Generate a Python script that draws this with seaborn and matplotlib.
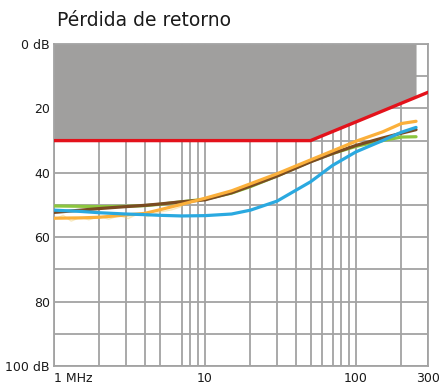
import numpy as np
import pandas as pd
import matplotlib
matplotlib.use("Agg")
import matplotlib.pyplot as plt
import seaborn as sns

# Frequencies (MHz) at which the return-loss traces are sampled
freq = [1, 1.5, 2, 3, 4, 5, 7, 10, 15, 20, 30, 50, 70, 100, 150, 200, 250]

# Return loss per trace (dB)
green = [50.3, 50.4, 50.5, 50.4, 50.2, 49.8, 49.0, 48.2, 46.3, 44.3, 41.0, 36.5, 34.0, 31.8, 30.0, 28.9, 28.8]
brown = [52.3, 51.6, 51.1, 50.5, 50.1, 49.7, 49.0, 48.4, 46.2, 44.1, 41.0, 36.6, 34.0, 31.5, 29.2, 27.7, 26.6]
orange = [54.1, 54.0, 53.8, 53.1, 52.6, 51.5, 49.8, 47.9, 45.6, 43.4, 40.3, 36.0, 33.2, 30.2, 27.3, 24.7, 24.0]
blue = [51.6, 52.0, 52.4, 52.8, 53.0, 53.2, 53.4, 53.3, 52.8, 51.6, 48.8, 42.8, 37.7, 33.5, 30.0, 27.4, 25.9]

# Raw measured trace at low frequency
raw_freq = [1, 1.15, 1.3, 1.5, 1.7, 2, 2.3, 2.7, 3.1, 3.6, 4.2, 5, 6, 7]
raw_db = [54.5, 53.2, 55.0, 53.8, 54.6, 53.5, 54.4, 53.3, 54.2, 52.8, 53.6, 52.2, 51.5, 50.5]

# Limit line and the shaded forbidden zone above it
limit_freq = [1, 50, 300]
limit_db = [30, 30, 15]
shade_freq = [1, 50, 250]
shade_db = [30, 30, 16.5]

# Axis labels
y_ticks = [0, 20, 40, 60, 80, 100]
y_labels = ["0 dB", "20", "40", "60", "80", "100 dB"]
x_ticks = [1, 10, 100, 300]
x_labels = ["1 MHz", "10", "100", "300"]
x_grid = [2, 3, 4, 5, 7, 8, 9, 10, 20, 30, 40, 50, 60, 70, 80, 90, 100, 200]

series = {"green": green, "brown": brown, "orange": orange, "blue": blue}
palette = {"green": "#8cc63f", "brown": "#7a4b22", "orange": "#fbb03b", "blue": "#2aa9e0"}

df = pd.concat(
    [pd.DataFrame({"freq": freq, "db": vals, "trace": name}) for name, vals in series.items()],
    ignore_index=True,
)

sns.set_style("white")
plt.rcParams["font.family"] = ["DejaVu Sans"]

fig = plt.figure(figsize=(4.4, 3.89), dpi=100)
ax = fig.add_axes([54 / 440, 1 - 366 / 389, (428 - 54) / 440, (366 - 44) / 389])
ax.set_xscale("log")

grid_c = "#a3a3a3"
ax.fill_between(shade_freq, 0, shade_db, color="#a09f9e", lw=0, zorder=2)

sns.lineplot(x=raw_freq, y=raw_db, ax=ax, color="#f0cf70", lw=1.0, alpha=0.45, zorder=3)
sns.lineplot(data=df, x="freq", y="db", hue="trace", palette=palette, ax=ax,
             lw=2.3, legend=False, zorder=4, sort=False)
sns.lineplot(x=limit_freq, y=limit_db, ax=ax, color="#e3121b", lw=2.4, zorder=5)

ax.set_xlim(1, 300)
ax.set_ylim(100, 0)

ax.set_yticks(y_ticks)
ax.set_yticklabels(y_labels)
ax.set_yticks(list(range(10, 100, 20)), minor=True)
ax.set_xticks(x_ticks)
ax.set_xticklabels(x_labels)
ax.set_xticks(x_grid, minor=True)
ax.xaxis.set_minor_formatter(matplotlib.ticker.NullFormatter())
ax.tick_params(which="both", length=0, labelsize=9, colors="#1a1a1a")
ax.tick_params(axis="y", pad=3)
ax.tick_params(axis="x", pad=4)
ax.get_xticklabels()[0].set_horizontalalignment("left")

ax.set_axisbelow(True)
ax.grid(True, which="both", color=grid_c, lw=1.3)
for s in ax.spines.values():
    s.set_color(grid_c)
    s.set_linewidth(1.3)
ax.set_xlabel("")
ax.set_ylabel("")

fig.text(57 / 440, 1 - 21 / 389, "Pérdida de retorno", fontsize=13.5,
         color="#1a1a1a", va="center", ha="left")

fig.savefig("out.png", dpi=100)
